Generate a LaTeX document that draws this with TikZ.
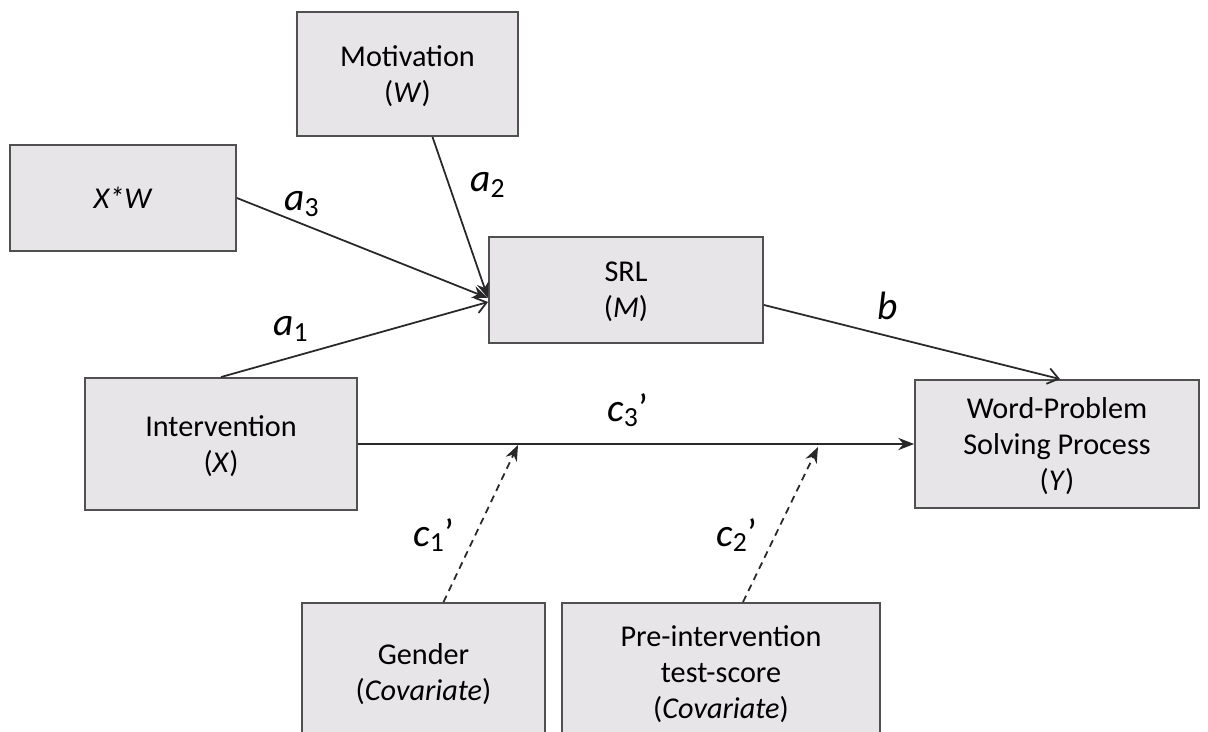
\documentclass[tikz,border=0pt]{standalone}
\usepackage{fontspec}
\setmainfont{Carlito}
\usetikzlibrary{arrows.meta,positioning,calc}

\definecolor{boxfill}{RGB}{231,229,231}
\definecolor{boxline}{RGB}{80,80,80}
\definecolor{arrline}{RGB}{40,40,40}

\tikzset{
  varbox/.style={draw=boxline, fill=boxfill, line width=1.1pt, align=center,
    font=\fontsize{17.2}{20.4}\selectfont, inner sep=0pt, text depth=0pt},
  pathlbl/.style={font=\fontsize{22.5}{24}\selectfont\itshape, inner sep=0pt},
  solidarr/.style={draw=arrline, line width=1pt, -{Stealth[length=9pt,width=7pt]}},
  openarr/.style={draw=arrline, line width=1pt, -{Straight Barb[length=6pt,width=9pt]}},
  covarr/.style={draw=arrline, line width=1pt, dashed, dash pattern=on 4pt off 3pt,
    -{Stealth[length=9pt,width=7pt]}}
}

\begin{document}
\begin{tikzpicture}[x=0.02cm,y=-0.02cm]
  \clip (0,0) rectangle (1208,731);
  \fill[white] (0,0) rectangle (1208,731);

  % Variables
  \node[varbox, minimum width=4.42cm, minimum height=2.48cm] (mot) at (407.5,74) {Motivation\\(\textit{W})};
  \node[varbox, minimum width=4.52cm, minimum height=2.12cm] (xw) at (123,198) {\textit{X*W}};
  \node[varbox, minimum width=5.48cm, minimum height=2.12cm] (srl) at (626,290) {SRL\\(\textit{M})};
  \node[varbox, minimum width=5.44cm, minimum height=2.64cm] (int) at (221,444) {Intervention\\(\textit{X})};
  \node[varbox, minimum width=5.68cm, minimum height=2.56cm] (wps) at (1057,444) {Word-Problem\\Solving Process\\(\textit{Y})};

  % Covariates
  \node[varbox, minimum width=4.86cm, minimum height=2.76cm] (gen) at (423.5,672) {Gender\\(\textit{Covariate})};
  \node[varbox, minimum width=6.36cm, minimum height=2.76cm] (pre) at (721,672) {Pre-intervention\\test-score\\(\textit{Covariate})};

  % Paths a and b
  \coordinate (srlin) at (488,298);
  \draw[solidarr] ($(mot.south)+(25,0)$) -- (srlin);
  \draw[solidarr] (xw.east) -- (srlin);
  \draw[openarr] (int.north) -- ($(srl.west)+(0,12)$);
  \draw[openarr] ($(srl.east)+(0,15)$) -- ($(wps.north)+(3,0)$);

  % Direct path c3'
  \draw[solidarr] (int.east) -- (wps.west);

  % Covariate paths
  \coordinate (genend) at (518,445);
  \coordinate (preend) at (818,447);
  \draw[covarr] ($(gen.north)+(20,0)$) -- (genend);
  \draw[covarr] ($(pre.north)+(22,0)$) -- (preend);

  % Labels
  \node[pathlbl] (la3) at (302,204) {a\textsubscript{\upshape 3}};
  \node[pathlbl] (la2) at (488,185) {a\textsubscript{\upshape 2}};
  \node[pathlbl] (la1) at (291,329) {a\textsubscript{\upshape 1}};
  \node[pathlbl] (lb) at (888,306) {b};
  \node[pathlbl] (lc3) at (628,410) {c\textsubscript{\upshape 3}\upshape’};
  \node[pathlbl] (lc1) at (434,535) {c\textsubscript{\upshape 1}\upshape’};
  \node[pathlbl] (lc2) at (737,535) {c\textsubscript{\upshape 2}\upshape’};
\end{tikzpicture}
\end{document}
